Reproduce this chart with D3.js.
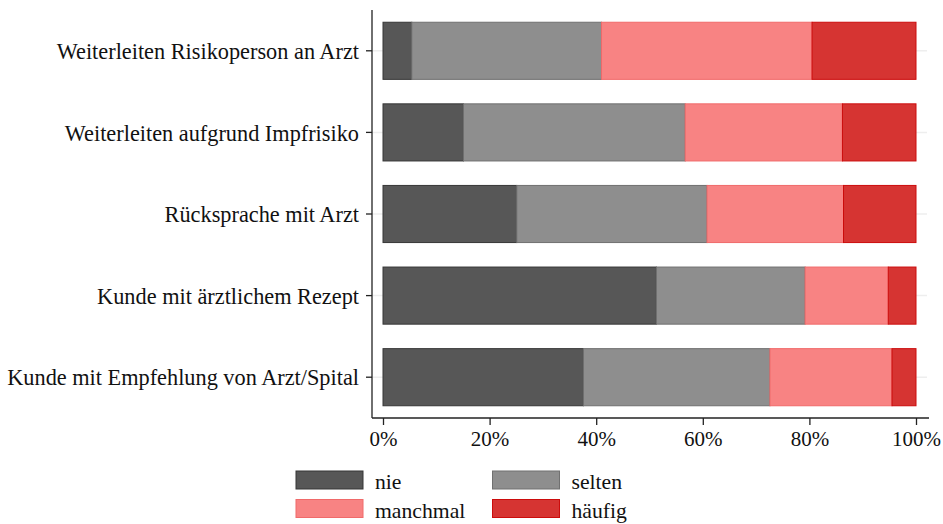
<!DOCTYPE html>
<html>
<head>
<meta charset="utf-8">
<script src="https://cdn.jsdelivr.net/npm/d3@7"></script>
<style>
  html, body { margin: 0; padding: 0; background: #ffffff; }
  svg { display: block; }
  text { font-family: "Liberation Serif", "Times New Roman", serif; fill: #111; }
</style>
</head>
<body>
<svg id="chart" width="943" height="524"></svg>
<script>
// Answer categories (stack order, left to right)
const series = ["nie", "selten", "manchmal", "häufig"];

// Situations shown on the vertical axis (top to bottom)
const categories = [
  "Weiterleiten Risikoperson an Arzt",
  "Weiterleiten aufgrund Impfrisiko",
  "Rücksprache mit Arzt",
  "Kunde mit ärztlichem Rezept",
  "Kunde mit Empfehlung von Arzt/Spital"
];

// Shares in percent, one value per category
const nie      = [5.4, 15.1, 25.1, 51.3, 37.6];
const selten   = [35.6, 41.6, 35.7, 27.9, 35.0];
const manchmal = [39.5, 29.5, 25.6, 15.6, 22.9];
const haeufig  = [19.5, 13.8, 13.6, 5.2, 4.5];

const tickValues = [0, 20, 40, 60, 80, 100];

const fills   = ["#575757", "#8e8e8e", "#f88383", "#d63432"];
const strokes = ["#363636", "#707070", "#f06a6a", "#cc0c0c"];

const rows = categories.map((c, i) => ({
  category: c,
  "nie": nie[i],
  "selten": selten[i],
  "manchmal": manchmal[i],
  "häufig": haeufig[i]
}));

const svg = d3.select("#chart");

// Plot frame
const frame = { left: 372, right: 929, top: 10, bottom: 418 };

const x = d3.scaleLinear().domain([0, 100]).range([383, 916]);
const y = d3.scaleBand().domain(categories).range([frame.top, frame.bottom]).paddingInner(0.3).paddingOuter(0.15);

const color = d3.scaleOrdinal().domain(series).range(fills);
const edge = d3.scaleOrdinal().domain(series).range(strokes);

// Light grid lines at category centers
svg.append("g")
  .selectAll("line")
  .data(categories)
  .join("line")
  .attr("x1", frame.left)
  .attr("x2", frame.right - 2)
  .attr("y1", d => y(d) + y.bandwidth() / 2)
  .attr("y2", d => y(d) + y.bandwidth() / 2)
  .attr("stroke", "#eeeeee")
  .attr("stroke-width", 1.5);

// Stacked bars
const stacked = d3.stack().keys(series)(rows);

svg.append("g")
  .selectAll("g")
  .data(stacked)
  .join("g")
  .attr("fill", d => color(d.key))
  .attr("stroke", d => edge(d.key))
  .attr("stroke-width", 1)
  .selectAll("rect")
  .data(d => d)
  .join("rect")
  .attr("x", d => x(d[0]))
  .attr("y", d => y(d.data.category))
  .attr("width", d => x(d[1]) - x(d[0]))
  .attr("height", y.bandwidth());

// Y axis
const yAxis = svg.append("g")
  .attr("transform", `translate(${frame.left},0)`)
  .call(d3.axisLeft(y).tickSize(6).tickPadding(7).tickSizeOuter(0));
yAxis.select(".domain").attr("d", `M0,${frame.top}V${frame.bottom}`).attr("stroke", "#222").attr("stroke-width", 1.3);
yAxis.selectAll(".tick line").attr("stroke", "#222").attr("stroke-width", 1.3);
yAxis.selectAll(".tick text")
  .attr("font-size", 22.3)
  .attr("fill", "#111")
  .attr("dy", "0.37em");

// X axis
const xAxis = svg.append("g")
  .attr("transform", `translate(0,${frame.bottom})`)
  .call(d3.axisBottom(x).tickValues(tickValues).tickFormat(d => d + "%").tickSize(7).tickPadding(6).tickSizeOuter(0));
xAxis.select(".domain").attr("d", `M${frame.left},0H${frame.right}`).attr("stroke", "#222").attr("stroke-width", 1.3);
xAxis.selectAll(".tick line").attr("stroke", "#222").attr("stroke-width", 1.3);
xAxis.selectAll(".tick text")
  .attr("font-size", 21)
  .attr("fill", "#111");

// Legend, two columns
const legend = svg.append("g");
const legendItems = legend.selectAll("g")
  .data(series)
  .join("g")
  .attr("transform", (d, i) => `translate(${296 + (i % 2) * 196.5},${471 + Math.floor(i / 2) * 28.5})`);

legendItems.append("rect")
  .attr("width", 67)
  .attr("height", 18)
  .attr("fill", d => color(d))
  .attr("stroke", d => edge(d))
  .attr("stroke-width", 1);

legendItems.append("text")
  .attr("x", 79)
  .attr("y", 18)
  .attr("font-size", 21.7)
  .text(d => d);
</script>
</body>
</html>
